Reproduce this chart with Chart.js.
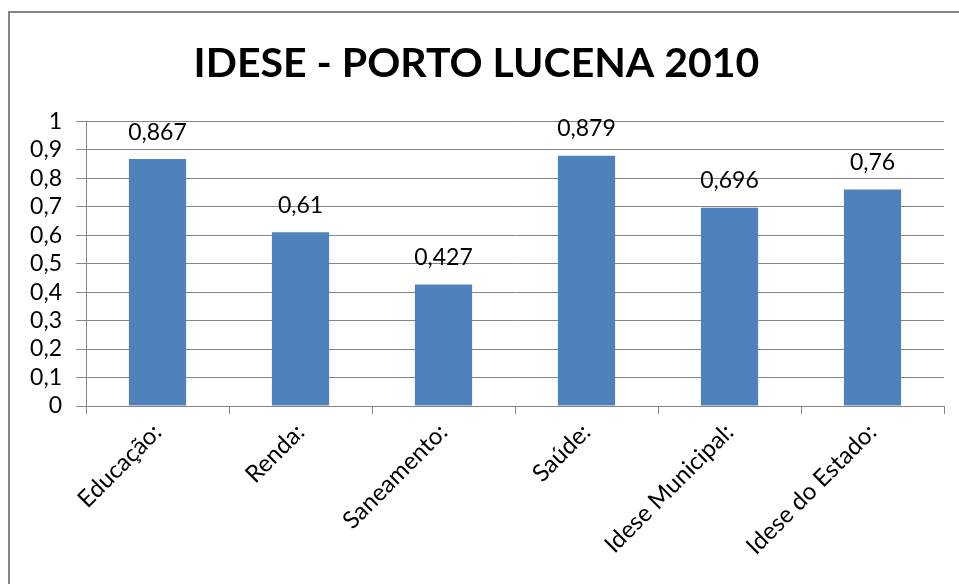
<!DOCTYPE html>
<html lang="pt-BR">
<head>
  <meta charset="UTF-8">
  <title>IDESE - Porto Lucena 2010</title>
  <script src="https://cdn.jsdelivr.net/npm/chart.js"></script>
  <style>
    html, body { margin: 0; padding: 0; background: #fff; }
    #wrap { width: 959px; height: 584px; }
  </style>
</head>
<body>
  <div id="wrap"><canvas id="graficoIdese" width="959" height="584"></canvas></div>
  <script>
    const categorias = ['Educação:', 'Renda:', 'Saneamento:', 'Saúde:', 'Idese Municipal:', 'Idese do Estado:'];
    const valores = [0.867, 0.61, 0.427, 0.879, 0.696, 0.76];
    const rotulos = ['0,867', '0,61', '0,427', '0,879', '0,696', '0,76'];

    const fonte = 'Lato, "Open Sans", sans-serif';

    // moldura cinza do gráfico (sai da janela à direita e embaixo)
    const moldura = {
      id: 'moldura',
      beforeDraw(chart) {
        const c = chart.ctx;
        c.save();
        c.strokeStyle = '#868686';
        c.lineWidth = 2;
        c.strokeRect(9, 12, chart.width + 20, chart.height + 20);
        c.restore();
      }
    };

    // rótulos de valor acima das barras
    const rotulosValor = {
      id: 'rotulosValor',
      afterDatasetsDraw(chart) {
        const c = chart.ctx;
        const meta = chart.getDatasetMeta(0);
        c.save();
        c.font = '23px ' + fonte;
        c.fillStyle = '#000';
        c.textAlign = 'center';
        c.textBaseline = 'middle';
        meta.data.forEach((barra, i) => {
          c.fillText(rotulos[i], barra.x, barra.y - 27);
        });
        c.restore();
      }
    };

    new Chart(document.getElementById('graficoIdese'), {
      type: 'bar',
      data: {
        labels: categorias,
        datasets: [{
          data: valores,
          backgroundColor: '#4F81BD',
          barPercentage: 0.4,
          categoryPercentage: 1
        }]
      },
      options: {
        responsive: false,
        animation: false,
        layout: { padding: { left: 9, right: 15, top: 0, bottom: 0 } },
        plugins: {
          legend: { display: false },
          tooltip: { enabled: false },
          title: {
            display: true,
            text: 'IDESE - PORTO LUCENA 2010',
            color: '#000',
            font: { family: fonte, size: 41, weight: 'bold' },
            padding: { top: 39, bottom: 33 }
          }
        },
        scales: {
          y: {
            min: 0,
            max: 1,
            ticks: {
              stepSize: 0.1,
              autoSkip: false,
              color: '#000',
              padding: 14,
              font: { family: fonte, size: 23 },
              callback: v => String(Math.round(v * 10) / 10).replace('.', ',')
            },
            grid: { color: '#868686', lineWidth: 1, tickLength: 10 },
            border: { color: '#868686', width: 1 },
            afterFit: s => { s.width = 77; }
          },
          x: {
            ticks: {
              color: '#000',
              maxRotation: 45,
              minRotation: 45,
              autoSkip: false,
              padding: 4,
              font: { family: fonte, size: 24 }
            },
            grid: { drawOnChartArea: false, color: '#868686', tickLength: 8 },
            border: { color: '#868686', width: 1 },
            afterFit: s => { s.height = 178; }
          }
        }
      },
      plugins: [moldura, rotulosValor]
    });
  </script>
</body>
</html>
